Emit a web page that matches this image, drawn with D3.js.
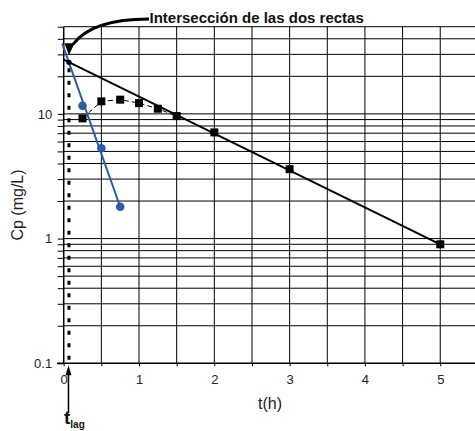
<!DOCTYPE html>
<html>
<head>
<meta charset="utf-8">
<script src="https://cdn.jsdelivr.net/npm/d3@7"></script>
<style>
  html, body { margin: 0; padding: 0; background: #fff; }
  svg { display: block; font-family: "Liberation Sans", Arial, Helvetica, sans-serif; }
</style>
</head>
<body>
<svg id="chart" width="475" height="431"></svg>
<script>
// Observed plasma concentrations (mg/L) vs time (h)
const obsTime = [0.25, 0.5, 0.75, 1.0, 1.25, 1.5, 2, 3, 5];
const obsConc = [9.2, 12.6, 13.0, 12.2, 11.0, 9.6, 7.1, 3.6, 0.9];

// Residual concentrations (absorption phase)
const resTime = [0.25, 0.5, 0.75];
const resConc = [11.6, 5.3, 1.8];

// Back-extrapolated terminal (elimination) line
const termTime = [0, 5];
const termConc = [27.2, 0.9];

// Residual regression line
const resLineTime = [-0.02, 0.75];
const resLineConc = [36.6, 1.8];

// Lag time and concentration where the two lines meet
const tLag = 0.07;
const cLag = 25.9;

// Axis ticks and labels
const xTickValues = [0, 0.5, 1, 1.5, 2, 2.5, 3, 3.5, 4, 4.5, 5, 5.5];
const xTickLabels = [0, 1, 2, 3, 4, 5];
const yTickLabels = [0.1, 1, 10];

const titleText = "Intersección de las dos rectas";
const xTitle = "t(h)";
const yTitle = "Cp (mg/L)";

const svg = d3.select("#chart");

const x = d3.scaleLinear().domain([0, 5.5]).range([63.7, 477.9]);
const y = d3.scaleLog().domain([0.1, 50]).range([363.3, 26.7]);

const yGrid = y.ticks();

// Grid
const grid = svg.append("g").attr("stroke", "#000").attr("stroke-width", 1);
grid.selectAll("line.h").data(yGrid.filter(d => d > 0.1)).join("line")
  .attr("x1", x(0)).attr("x2", 475)
  .attr("y1", d => y(d)).attr("y2", d => y(d));
grid.selectAll("line.v").data(xTickValues.filter(d => d > 0)).join("line")
  .attr("x1", d => x(d)).attr("x2", d => x(d))
  .attr("y1", y(0.1)).attr("y2", y(50));

// Axes
const fmtY = d => yTickLabels.includes(+d.toFixed(3)) ? String(+d.toFixed(3)) : "";
const yAxis = d3.axisLeft(y).tickValues(yGrid).tickSize(6).tickPadding(5.5).tickFormat(fmtY);
const gy = svg.append("g").attr("transform", `translate(${x(0)},0)`).call(yAxis);
gy.select(".domain").remove();

const xAxis = d3.axisBottom(x).tickValues(xTickValues).tickSize(3).tickPadding(8.5)
  .tickFormat(d => xTickLabels.includes(d) ? d : "");
const gx = svg.append("g").attr("transform", `translate(0,${y(0.1)})`).call(xAxis);
gx.select(".domain").remove();

[gx, gy].forEach(g => {
  g.selectAll("line").attr("stroke", "#000").attr("stroke-width", 1);
  g.selectAll("text").attr("font-size", 13).attr("fill", "#222")
    .attr("font-family", "'Liberation Sans', Arial, sans-serif");
});

svg.append("line").attr("x1", x(0)).attr("x2", x(0)).attr("y1", y(50)).attr("y2", y(0.1))
  .attr("stroke", "#000").attr("stroke-width", 1.5);
svg.append("line").attr("x1", 57).attr("x2", 475).attr("y1", y(0.1)).attr("y2", y(0.1))
  .attr("stroke", "#000").attr("stroke-width", 1.5);

// Axis titles
svg.append("text").attr("x", 270).attr("y", 409).attr("text-anchor", "middle")
  .attr("font-size", 16).attr("fill", "#222").text(xTitle);
svg.append("text").attr("transform", "translate(23,205) rotate(-90)").attr("text-anchor", "middle")
  .attr("font-size", 16).attr("fill", "#222").text(yTitle);

const line = d3.line().x(d => x(d[0])).y(d => y(d[1]));

// Dotted lag-time marker
svg.append("line").attr("x1", x(tLag)).attr("x2", x(tLag)).attr("y1", y(cLag) + 6).attr("y2", y(0.1))
  .attr("stroke", "#000").attr("stroke-width", 3).attr("stroke-dasharray", "4,8.5");

// Observed curve (dashed, rising part)
const obs = obsTime.map((t, i) => [t, obsConc[i]]);
svg.append("path").datum(obs.filter(d => d[0] <= 1.5)).attr("d", line)
  .attr("fill", "none").attr("stroke", "#000").attr("stroke-width", 1).attr("stroke-dasharray", "5,3");

// Terminal line
svg.append("path").datum(termTime.map((t, i) => [t, termConc[i]])).attr("d", line)
  .attr("fill", "none").attr("stroke", "#000").attr("stroke-width", 2);

// Residual line
const blue = "#2b5ba8";
svg.append("path").datum(resLineTime.map((t, i) => [t, resLineConc[i]])).attr("d", line)
  .attr("fill", "none").attr("stroke", blue).attr("stroke-width", 2);

// Markers
svg.append("g").selectAll("rect").data(obs).join("rect")
  .attr("x", d => x(d[0]) - 4).attr("y", d => y(d[1]) - 4)
  .attr("width", 8).attr("height", 8).attr("fill", "#000");
svg.append("g").selectAll("circle").data(resTime.map((t, i) => [t, resConc[i]])).join("circle")
  .attr("cx", d => x(d[0])).attr("cy", d => y(d[1])).attr("r", 4.3).attr("fill", blue);

// Intersection point
svg.append("circle").attr("cx", x(tLag)).attr("cy", y(cLag)).attr("r", 2.6).attr("fill", "#000");

// Title and curved pointer
svg.append("text").attr("x", 149.5).attr("y", 23.3).attr("font-size", 15).attr("font-weight", "bold")
  .attr("fill", "#111").text(titleText);
const ax = x(tLag), ay = y(cLag);
svg.append("path")
  .attr("d", `M149,19 C112,19 86,27 ${ax + 4},${ay - 18}`)
  .attr("fill", "none").attr("stroke", "#000").attr("stroke-width", 3);
svg.append("path")
  .attr("d", `M${ax - 4.5},${ay - 19} L${ax + 5.5},${ay - 19} L${ax},${ay - 7} Z`)
  .attr("fill", "#000");

// t_lag pointer below the axis
const lx = x(tLag) - 0.5;
svg.append("line").attr("x1", lx).attr("x2", lx).attr("y1", 413).attr("y2", 372)
  .attr("stroke", "#000").attr("stroke-width", 1.5);
svg.append("path").attr("d", `M${lx},${y(0.1) + 2} L${lx - 3},${y(0.1) + 12} L${lx + 3},${y(0.1) + 12} Z`)
  .attr("fill", "#000");
const tl = svg.append("text").attr("x", 64).attr("y", 424).attr("font-weight", "bold").attr("fill", "#111");
tl.append("tspan").attr("font-size", 19).text("t");
tl.append("tspan").attr("font-size", 10).attr("dy", 4).text("lag");
</script>
</body>
</html>
